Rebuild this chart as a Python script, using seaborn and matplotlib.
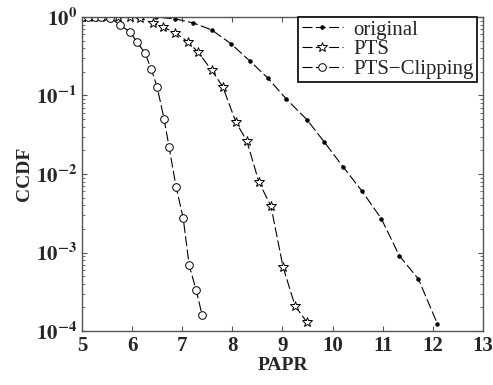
import numpy as np
import pandas as pd
import matplotlib
matplotlib.use("Agg")
import matplotlib.pyplot as plt
from matplotlib.ticker import FuncFormatter
import seaborn as sns

# CCDF curves (x = PAPR in dB, y = CCDF)
papr_orig = [5.0, 5.37, 5.74, 6.11, 6.48, 6.86, 7.22, 7.59, 7.97, 8.35, 8.71, 9.07,
             9.49, 9.83, 10.21, 10.59, 10.97, 11.33, 11.71, 12.09]
ccdf_orig = [1.0, 1.0, 1.0, 0.999, 0.997, 0.944, 0.84, 0.683, 0.457, 0.275, 0.166, 0.091,
             0.049, 0.0257, 0.0123, 0.006, 0.0027, 0.00091, 0.00046, 0.000123]

papr_pts = [5.0, 5.24, 5.48, 5.72, 5.96, 6.16, 6.42, 6.62, 6.86, 7.12, 7.32, 7.59,
            7.81, 8.07, 8.29, 8.53, 8.77, 9.01, 9.25, 9.49]
ccdf_pts = [1.0, 1.0, 1.0, 0.995, 0.99, 0.975, 0.83, 0.74, 0.63, 0.48, 0.355, 0.209,
            0.129, 0.046, 0.0263, 0.0079, 0.0039, 0.00066, 0.00021, 0.000129]

papr_clip = [5.0, 5.13, 5.26, 5.39, 5.56, 5.76, 5.96, 6.10, 6.26, 6.38, 6.50, 6.64,
             6.74, 6.88, 7.02, 7.14, 7.28, 7.40]
ccdf_clip = [1.0, 1.0, 1.0, 0.99, 0.975, 0.79, 0.645, 0.479, 0.347, 0.219, 0.129, 0.050,
             0.0219, 0.0068, 0.00275, 0.00069, 0.00033, 0.000158]

labels = ["original", "PTS", "PTS\u2212Clipping"]

df = pd.concat([
    pd.DataFrame({"PAPR": papr_orig, "CCDF": ccdf_orig, "scheme": labels[0]}),
    pd.DataFrame({"PAPR": papr_pts, "CCDF": ccdf_pts, "scheme": labels[1]}),
    pd.DataFrame({"PAPR": papr_clip, "CCDF": ccdf_clip, "scheme": labels[2]}),
])

sns.set_style("ticks")
plt.rcParams["font.family"] = ["Liberation Serif", "DejaVu Serif"]
plt.rcParams["mathtext.fontset"] = "stix"

fig = plt.figure(figsize=(4.93, 3.85), dpi=100)
ax = fig.add_axes([0.166, 0.140, 0.814, 0.816])

styles = {
    labels[0]: dict(marker="o", markersize=2.5, markerfacecolor="black"),
    labels[1]: dict(marker="*", markersize=7, markerfacecolor="white"),
    labels[2]: dict(marker="o", markersize=5.5, markerfacecolor="white"),
}
for name in labels:
    sub = df[df["scheme"] == name]
    sns.lineplot(data=sub, x="PAPR", y="CCDF", ax=ax, color="black", lw=0.8,
                 dashes=False, linestyle=(0, (9, 3)), markeredgecolor="black",
                 markeredgewidth=0.7, label=name, **styles[name])

ax.set_yscale("log")
ax.set_xlim(5, 13)
ax.set_ylim(1e-4, 1)
ax.set_xticks(range(5, 14))
ax.yaxis.set_major_formatter(FuncFormatter(
    lambda v, p: r"$\mathbf{10^{%d}}$" % round(np.log10(v))))
ax.tick_params(which="both", direction="in", top=True, right=True, color="#555555")
ax.tick_params(labelsize=15)
for lbl in ax.get_xticklabels():
    lbl.set_fontweight("bold")
for s in ax.spines.values():
    s.set_color("#555555")
    s.set_linewidth(1.0)

ax.set_xlabel("PAPR", fontsize=14, fontweight="bold", labelpad=1)
ax.set_ylabel("CCDF", fontsize=14, fontweight="bold", labelpad=2)

leg = ax.legend(loc="upper right", bbox_to_anchor=(0.985, 1.0), fontsize=15,
                frameon=True, fancybox=False, edgecolor="black", framealpha=1,
                borderaxespad=0.0, handlelength=2.0, labelspacing=0.0,
                borderpad=0.15, handletextpad=0.5)
leg.get_frame().set_linewidth(1.2)

fig.savefig("out.png", dpi=100)
